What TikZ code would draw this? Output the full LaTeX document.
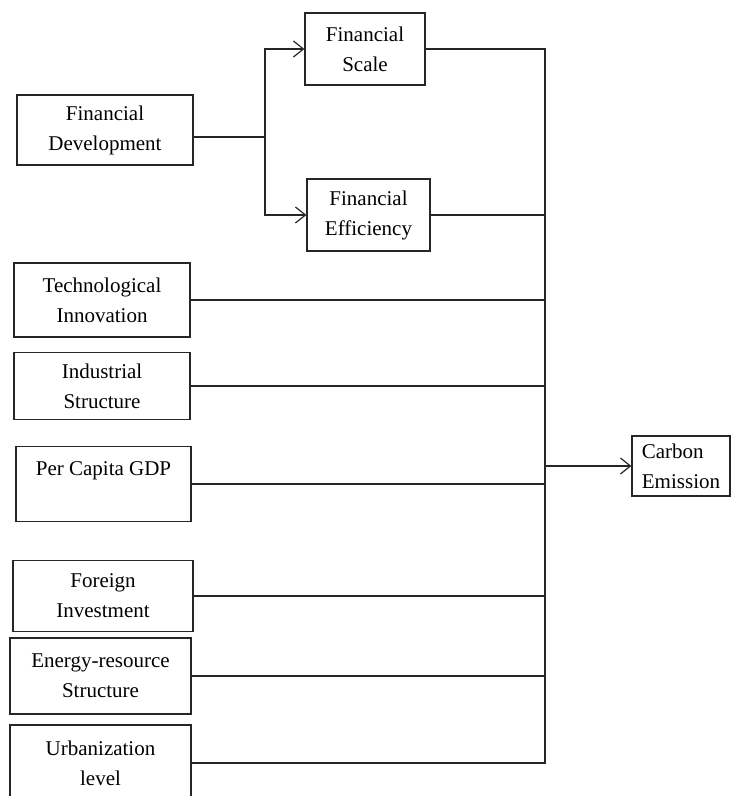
\documentclass[tikz,border=0pt]{standalone}
\usepackage{fontspec}
\setmainfont{Liberation Serif}
\usetikzlibrary{arrows.meta}

\begin{document}
\begin{tikzpicture}[x=1pt, y=-1pt]
    % Define styles
    \tikzstyle{factor} = [rectangle, draw=black!85, line width=1.2pt, align=center, inner sep=0pt, font=\fontsize{21}{30}\selectfont]
    \tikzstyle{conn} = [draw=black!85, line width=1.2pt]
    \tikzstyle{arrow} = [conn, -{Straight Barb[length=10pt, width=16pt]}]

    \useasboundingbox (0,0) rectangle (731,796);

    % Financial development and its two channels
    \node [factor, minimum width=176, minimum height=70] (findev) at (105,130) {Financial\\Development};
    \node [factor, minimum width=120, minimum height=72] (fs) at (365,49) {Financial\\Scale};
    \node [factor, minimum width=123, minimum height=72] (fe) at (368.5,215) {Financial\\Efficiency};

    % Control factors in the left column
    \node [factor, minimum width=176, minimum height=74] (ti) at (102,300) {Technological\\Innovation};
    \node [factor, minimum width=176, minimum height=67] (indstr) at (102,386) {Industrial\\Structure};
    \node [factor, minimum width=175, minimum height=75] (gdp) at (103.5,484) {Per Capita GDP\\\mbox{}};
    \node [factor, minimum width=180, minimum height=71] (fi) at (103,596) {Foreign\\Investment};
    \node [factor, minimum width=181, minimum height=76] (ers) at (100.5,676) {Energy-resource\\Structure};
    \node [factor, minimum width=181, minimum height=76] (ul) at (100.5,763) {Urbanization\\level};

    % Outcome
    \node [factor, align=left, minimum width=98, minimum height=60] (ce) at (681,466) {Carbon\\Emission};

    % Split of financial development
    \coordinate (split) at (265,137);
    \draw [conn] (split -| findev.east) -- (split);
    \draw [arrow] (split) |- (fs.west);
    \draw [arrow] (split) |- (fe.west);

    % Collecting bus
    \coordinate (bus) at (545,49);
    \draw [conn] (fs.east) -- (fs.east -| bus) -- (ul.east -| bus) -- (ul.east);
    \draw [conn] (fe.east) -- (fe.east -| bus);
    \draw [conn] (ti.east) -- (ti.east -| bus);
    \draw [conn] (indstr.east) -- (indstr.east -| bus);
    \draw [conn] (gdp.east) -- (gdp.east -| bus);
    \draw [conn] (fi.east) -- (fi.east -| bus);
    \draw [conn] (ers.east) -- (ers.east -| bus);
    \draw [arrow] (ce.west -| bus) -- (ce.west);
\end{tikzpicture}
\end{document}
